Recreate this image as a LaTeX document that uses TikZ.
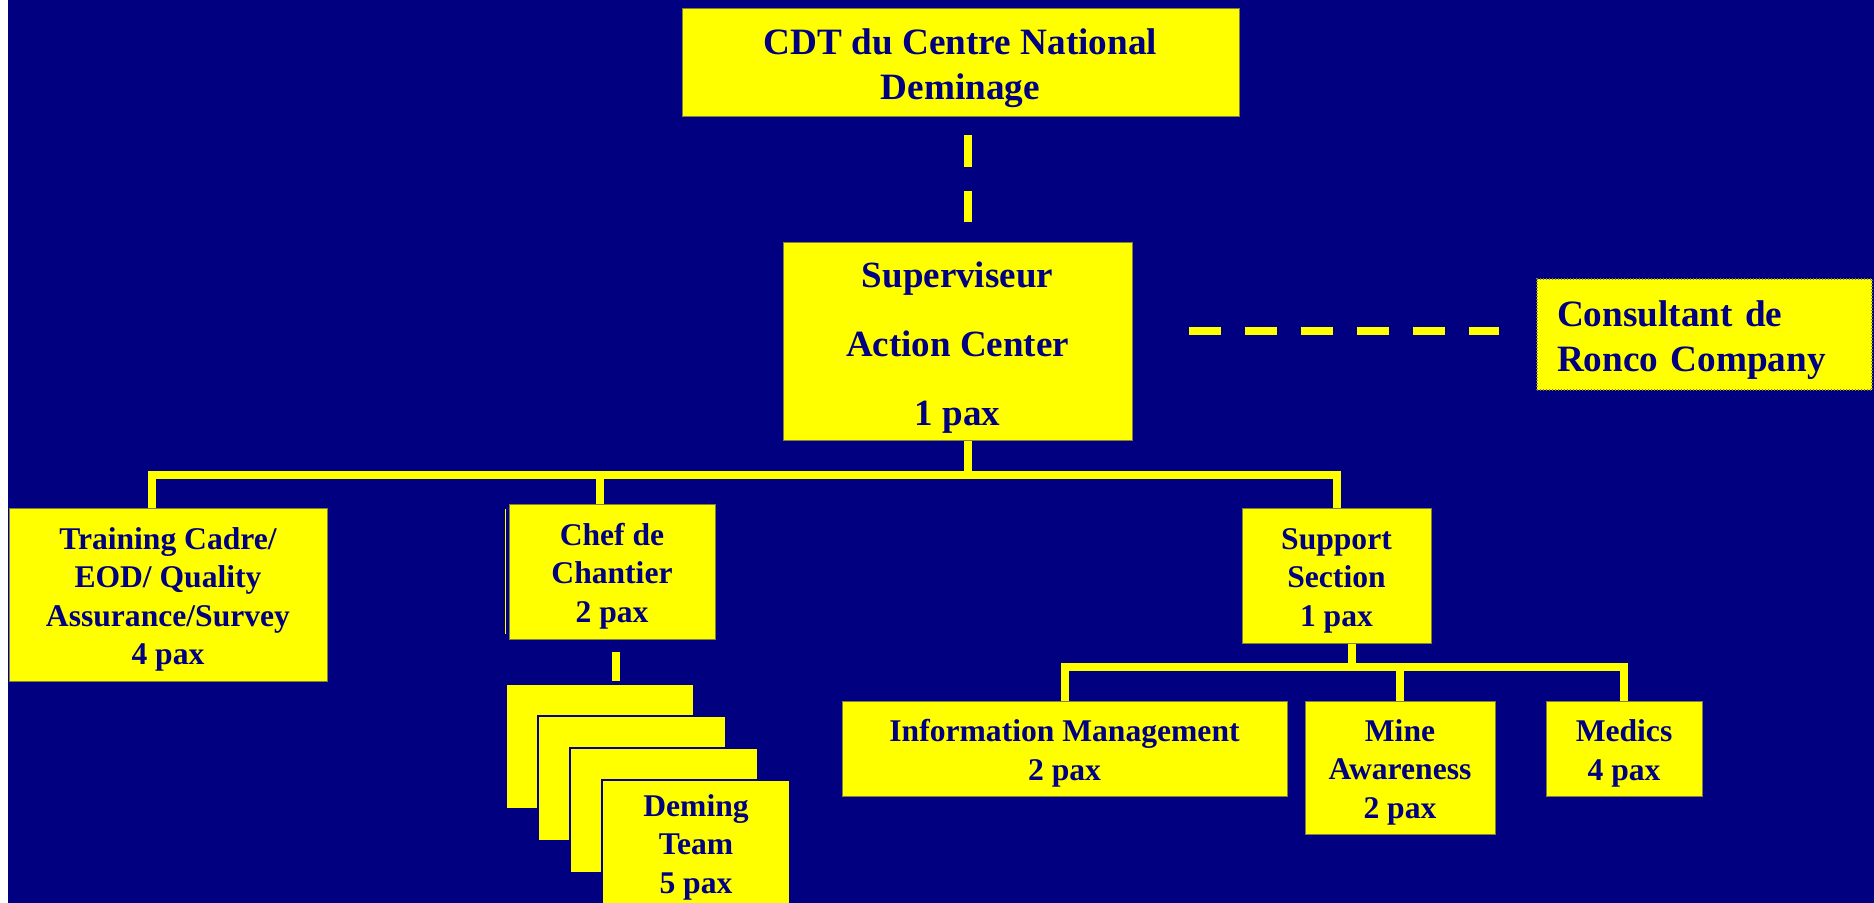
\documentclass[tikz,border=0pt]{standalone}
\usepackage{fontspec}
\setmainfont{Liberation Serif}
\definecolor{navybg}{RGB}{0,0,128}
\definecolor{boxyel}{RGB}{255,255,0}
\definecolor{edgecol}{RGB}{128,128,64}
\newcommand{\tstrut}{\rule{0pt}{1em}}
\begin{document}
\begin{tikzpicture}[x=0.5pt,y=-0.5pt,
  sz/.style 2 args={minimum width=#1*0.5pt, minimum height=#2*0.5pt},
  box/.style={rectangle, fill=boxyel, draw=edgecol, line width=0.5pt, inner sep=0pt,
    text=navybg, align=center, font=\bfseries\fontsize{15.8}{19.2}\selectfont},
  bigfont/.style={font=\bfseries\fontsize{18.6}{22.5}\selectfont},
  supfont/.style={font=\bfseries\fontsize{18.5}{34.5}\selectfont},
  stackbox/.style={box, draw=navybg, line width=1pt, sz={188}{125}},
  conn/.style={draw=boxyel, line width=4pt},
  dashconn/.style={draw=boxyel, line width=4pt, dash pattern=on 16pt off 12pt},
]
\fill[white] (0,0) rectangle (1874,903);
\fill[navybg] (8,0) rectangle (1874,903);
\useasboundingbox (0,0) rectangle (1874,903);

% boxes
\node[box, bigfont, sz={557}{108}] (top) at (960.5,63) {\tstrut CDT du Centre National\\Deminage};
\node[box, supfont, sz={349}{198}] (sup) at (957.5,342) {\tstrut Superviseur\\Action Center\\1 pax};
\node[box, bigfont, align=left, text width=147.5pt, inner xsep=10pt, minimum height=55.5pt,
      draw=edgecol, densely dotted, line width=0.8pt] (cons) at (1704.5,334.5) {\tstrut Consultant de\\Ronco Company};
\node[box, sz={318}{173}] (train) at (168,594.5) {\tstrut Training Cadre/\\EOD/ Quality\\Assurance/Survey\\4 pax};
\node[box, sz={206}{135}] (chef) at (612,571.5) {\tstrut Chef de\\Chantier\\2 pax};
\node[box, sz={189}{135}] (supp) at (1336.5,575.5) {\tstrut Support\\Section\\1 pax};
\node[box, sz={445}{95}] (info) at (1064.5,748.5) {\tstrut Information Management\\2 pax};
\node[box, sz={190}{133}] (mine) at (1400,767.5) {\tstrut Mine\\Awareness\\2 pax};
\node[box, sz={156}{95}] (med) at (1624,748.5) {\tstrut Medics\\4 pax};

\node[stackbox] (d1) at (600,746.5) {};
\node[stackbox] (d2) at (632,778.5) {};
\node[stackbox] (d3) at (664,810.5) {};
\node[stackbox] (d4) at (696,842.5) {\tstrut Deming\\Team\\5 pax};

% thin edge at left of Chef de Chantier
\draw[boxyel, line width=0.5pt] ([xshift=-1.5pt,yshift=-2.5pt]chef.north west) -- ([xshift=-1.5pt,yshift=3pt]chef.south west);

% helper coordinates
\coordinate (xs) at (968,0);
\coordinate (xt) at (152,0);
\coordinate (xc) at (600,0);
\coordinate (xd) at (616,0);
\coordinate (xsb) at (1352,0);
\coordinate (bar) at (0,475);
\coordinate (sbar) at (0,667);

% dashed links
\draw[dashconn, shorten <=9pt, shorten >=10pt] (top.south -| xs) -- (sup.north -| xs);
\draw[dashconn, shorten <=28pt, shorten >=18.5pt] ([yshift=5.5pt]sup.east) -- ([yshift=5.5pt]sup.east -| cons.west);

% main tree
\draw[conn] (sup.south -| xs) -- (bar -| xs);
\draw[conn] (train.north -| xt) -- (bar -| xt) -- (bar -| supp.north) -- (supp.north);
\draw[conn] (chef.north -| xc) -- (bar -| xc);

% support sub-tree
\draw[conn] (supp.south -| xsb) -- (sbar -| xsb);
\draw[conn] (info.north) -- (sbar -| info.north) -- (sbar -| med.north) -- (med.north);
\draw[conn] (mine.north) -- (sbar -| mine.north);

% chef to deming teams
\draw[conn, shorten <=6pt, shorten >=1pt] (chef.south -| xd) -- (d1.north -| xd);
\end{tikzpicture}
\end{document}
